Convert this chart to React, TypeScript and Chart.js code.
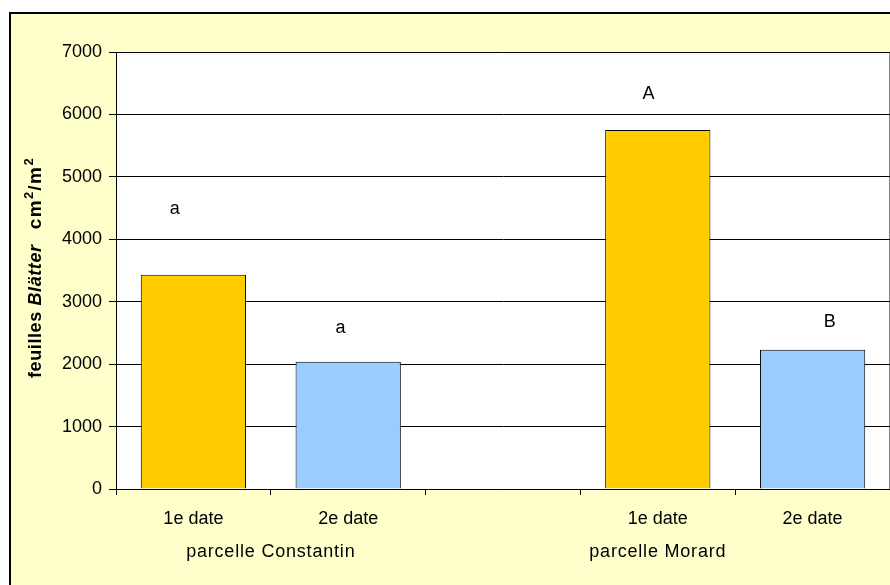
import React, { useEffect, useRef } from "react";
import { Chart, registerables } from "chart.js";

Chart.register(...registerables);

const categories = ["1e date", "2e date", "", "1e date", "2e date"];
const values: (number | null)[] = [3430, 2040, null, 5750, 2230];
const barColors = ["#FFCC00", "#99CCFF", "#FFFFFF", "#FFCC00", "#99CCFF"];
const groupLabels = ["parcelle Constantin", "parcelle Morard"];
const groupPos = [0.5, 3];
const letters = ["a", "a", "A", "B"];
const letterX = [-0.12, 0.95, 2.94, 4.11];
const letterY = [4480, 2580, 6330, 2680];
const yTicks = [0, 1000, 2000, 3000, 4000, 5000, 6000, 7000];

const FONT = "'Liberation Sans', Arial, sans-serif";

const bgPlugin = {
  id: "bgPlugin",
  beforeDraw(chart: any) {
    const { ctx, chartArea } = chart;
    ctx.save();
    ctx.fillStyle = "#FFFFFF";
    ctx.fillRect(0, 0, chart.width, chart.height);
    ctx.fillStyle = "#FFFFCC";
    ctx.fillRect(10, 13, chart.width, chart.height);
    ctx.strokeStyle = "#000000";
    ctx.lineWidth = 2;
    ctx.strokeRect(10, 13, chart.width + 10, chart.height + 10);
    ctx.fillStyle = "#FFFFFF";
    ctx.fillRect(chartArea.left, chartArea.top, chartArea.right - chartArea.left, chartArea.bottom - chartArea.top);
    ctx.strokeStyle = "#808080";
    ctx.lineWidth = 1;
    ctx.beginPath();
    ctx.moveTo(chartArea.left, chartArea.top + 0.5);
    ctx.lineTo(chartArea.right - 0.5, chartArea.top + 0.5);
    ctx.lineTo(chartArea.right - 0.5, chartArea.bottom);
    ctx.stroke();
    ctx.restore();
  },
  afterDraw(chart: any) {
    const { ctx } = chart;
    const x = chart.scales.x;
    const y = chart.scales.y;
    ctx.save();
    ctx.fillStyle = "#000";
    ctx.font = `18px ${FONT}`;
    ctx.textAlign = "center";
    ctx.textBaseline = "middle";
    letters.forEach((l, i) => {
      ctx.fillText(l, x.getPixelForValue(letterX[i]), y.getPixelForValue(letterY[i]));
    });
    ctx.font = `18px ${FONT}`;
    (ctx as any).letterSpacing = "0.8px";
    groupLabels.forEach((g, i) => {
      ctx.fillText(g, x.getPixelForValue(groupPos[i]), 552);
    });
    (ctx as any).letterSpacing = "0px";
    const segs = [
      { t: "feuilles ", f: `bold 18px ${FONT}`, dy: 0, ls: 0.6 },
      { t: "Blätter", f: `italic bold 18px ${FONT}`, dy: 0, ls: 0.6 },
      { t: "   ", f: `bold 18px ${FONT}`, dy: 0, ls: 0 },
      { t: "cm", f: `bold 19px ${FONT}`, dy: 0, ls: 1.5 },
      { t: "2", f: `bold 13px ${FONT}`, dy: -7, ls: 1 },
      { t: "/m", f: `bold 19px ${FONT}`, dy: 0, ls: 1.5 },
      { t: "2", f: `bold 13px ${FONT}`, dy: -7, ls: 0 },
    ];
    ctx.translate(36, 378);
    ctx.rotate(-Math.PI / 2);
    ctx.textAlign = "left";
    ctx.textBaseline = "middle";
    let cx = 0;
    segs.forEach((s) => {
      ctx.font = s.f;
      (ctx as any).letterSpacing = s.ls + "px";
      ctx.fillText(s.t, cx, s.dy);
      cx += ctx.measureText(s.t).width;
    });
    ctx.restore();
  },
};

export default function App() {
  const ref = useRef<HTMLCanvasElement>(null);
  useEffect(() => {
    document.body.style.margin = "0";
    const chart = new Chart(ref.current!, {
      type: "bar",
      data: {
        labels: categories,
        datasets: [
          {
            data: values,
            backgroundColor: barColors,
            borderColor: "#000000",
            borderWidth: 1,
            categoryPercentage: 1,
            barPercentage: 0.68,
          },
        ],
      },
      options: {
        animation: false,
        responsive: false,
        devicePixelRatio: 1,
        layout: { padding: { top: 52, left: 0, right: 0, bottom: 0 } },
        plugins: { legend: { display: false }, tooltip: { enabled: false } },
        scales: {
          x: {
            grid: { offset: true, drawOnChartArea: false, tickLength: 6, color: "#000", lineWidth: 1 },
            border: { color: "#000", width: 1 },
            ticks: { color: "#000", font: { family: FONT, size: 18 }, padding: 13, maxRotation: 0, autoSkip: false },
            afterFit(s: any) {
              s.height = 96;
            },
          },
          y: {
            min: 0,
            max: 7000,
            afterBuildTicks(s: any) {
              s.ticks = yTicks.map((v) => ({ value: v }));
            },
            grid: { color: "#000", lineWidth: 1, tickLength: 7 },
            border: { color: "#000", width: 1 },
            ticks: {
              color: "#000",
              font: { family: FONT, size: 18 },
              padding: 7,
              callback: (v: any) => String(v),
            },
            afterFit(s: any) {
              s.width = 116;
            },
          },
        },
      },
      plugins: [bgPlugin],
    });
    return () => chart.destroy();
  }, []);
  return <canvas ref={ref} width={890} height={585} style={{ display: "block", width: 890, height: 585 }} />;
}
